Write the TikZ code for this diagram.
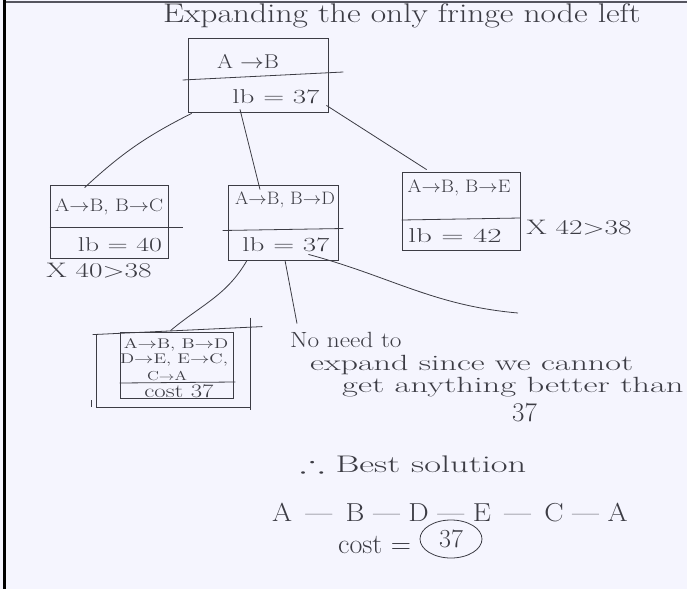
\documentclass[tikz,border=0pt]{standalone}
\usepackage{amssymb}
\usepackage{graphicx}
\usetikzlibrary{calc,shapes.geometric}
\definecolor{paper}{HTML}{F5F5FE}
\definecolor{ink}{HTML}{3C3C44}
\definecolor{frame}{HTML}{55555F}
\newcommand{\mywide}[2]{\scalebox{#1}[1]{#2}}
\tikzset{
  statebox/.style={draw=ink,line width=0.8pt,rectangle,inner sep=0pt},
  divider/.style={draw=ink,line width=0.8pt},
  edge/.style={draw=ink,line width=0.8pt},
  boxtext/.style={text=ink,font=\fontsize{18}{20}\selectfont,inner sep=1pt},
  lbtext/.style={text=ink,font=\fontsize{20}{22}\selectfont,inner sep=1pt},
  smalltext/.style={text=ink,font=\fontsize{14}{15}\selectfont,inner sep=0pt},
  note/.style={text=ink,font=\fontsize{22}{24}\selectfont,inner sep=0pt,anchor=base west},
  title/.style={text=ink,font=\fontsize{27}{30}\selectfont,inner sep=0pt,anchor=base west},
}
\begin{document}
\begin{tikzpicture}[x=1pt,y=-1pt]
\useasboundingbox (0,0) rectangle (687,589);
\fill[paper] (0,0) rectangle (687,589);
\draw[black,line width=3pt] (4,0) -- (4,589);
\draw[frame,line width=1.5pt] (6,2) -- (687,2);

% title
\node[title] (ttl) at (163,22) {\mywide{1.24}{Expanding the only fringe node left}};

% root
\node[statebox,minimum width=140,minimum height=74] (root) at (258,75) {};
\draw[divider] ($(root.west)+(-5,5)$) -- ($(root.east)+(15,-3)$);
\node[boxtext,font=\fontsize{20}{22}\selectfont] (rt) at (248,61) {\mywide{1.15}{A $\to$B}};
\node[lbtext] (rb) at (276,97) {\mywide{1.45}{lb = 37}};

% child 1
\node[statebox,minimum width=118,minimum height=73] (c1) at (109,221.5) {};
\draw[divider] ($(c1.west)+(0,6)$) -- ($(c1.east)+(15,6)$);
\node[boxtext] (c1t) at (109,207) {\mywide{1.17}{A$\to$B, B$\to$C}};
\node[lbtext] (c1b) at (120,245) {\mywide{1.4}{lb = 40}};
\node[boxtext,font=\fontsize{21}{23}\selectfont] (c1x) at (99,271) {\mywide{1.4}{X 40$>$38}};

% child 2
\node[statebox,minimum width=110,minimum height=75] (c2) at (283,222.5) {};
\draw[divider] ($(c2.west)+(-5,8)$) -- ($(c2.east)+(5,6)$);
\node[boxtext] (c2t) at (285,200) {\mywide{1.07}{A$\to$B, B$\to$D}};
\node[lbtext] (c2b) at (286,245) {\mywide{1.45}{lb = 37}};

% child 3
\node[statebox,minimum width=118,minimum height=78] (c3) at (461,211) {};
\draw[divider] ($(c3.west)+(0,9)$) -- ($(c3.east)+(0,7)$);
\node[boxtext] (c3t) at (459,188) {\mywide{1.12}{A$\to$B, B$\to$E}};
\node[lbtext] (c3b) at (455,236) {\mywide{1.55}{lb = 42}};
\node[boxtext,font=\fontsize{21}{23}\selectfont] (c3x) at (579,228) {\mywide{1.4}{X 42$>$38}};

% leaf
\node[statebox,minimum width=113,minimum height=66] (leaf) at (176.5,365) {};
\draw[divider] ($(leaf.west)+(0,18)$) -- ($(leaf.east)+(2,17)$);
\node[smalltext] (l1) at (176,345) {\mywide{1.35}{A$\to$B, B$\to$D}};
\node[smalltext] (l2) at (174,360) {\mywide{1.35}{D$\to$E, E$\to$C,}};
\node[smalltext,font=\fontsize{13}{14}\selectfont] (l3) at (167,375.5) {\mywide{1.3}{C$\to$A}};
\node[smalltext,font=\fontsize{19}{20}\selectfont] (l4) at (179,391) {\mywide{1.3}{cost 37}};
\draw[edge] ($(leaf.north west)+(-27,3)$) -- ($(leaf.north east)+(29,-5)$);
\draw[edge] ($(leaf.north west)+(-23,3)$) -- ($(leaf.south west)+(-23,9)$) -- ($(leaf.south east)+(17,9)$);
\draw[edge] ($(leaf.north east)+(17,-14)$) -- ($(leaf.south east)+(17,12)$);
\draw[edge] ($(leaf.south west)+(-28,2)$) -- ($(leaf.south west)+(-28,9)$);

% connectors
\draw[edge] ($(root.south west)+(4,1)$) to[bend right=8] ($(c1.north west)+(35,3)$);
\draw[edge] ($(root.south)+(-18,-3)$) -- ($(c2.north)+(-23,5)$);
\draw[edge] ($(root.south east)+(-2,-7)$) -- ($(c3.north west)+(25,-2)$);
\draw[edge] ($(c2.south)+(-36,0)$) to[out=240,in=40] ($(leaf.north)+(-6,-1)$);

% note
\node[note] (n1) at (290,347) {\mywide{1.15}{No need to}};
\node[note] (n2) at (310,370) {\mywide{1.55}{expand since we cannot}};
\node[note] (n3) at (342,392) {\mywide{1.57}{get anything better than}};
\node[note,font=\fontsize{27}{29}\selectfont] (n4) at (512,421) {37};
\coordinate (tail) at (518,313);
\draw[edge] ($(c2.south)+(2,0)$) -- ($(n1.north west)+(7,-8)$);
\draw[edge] ($(c2.south east)+(-30,-6)$) to[out=-15,in=175] (tail);

% best solution
\node[note,font=\fontsize{24}{26}\selectfont] (b1) at (300,472) {\mywide{1.52}{$\therefore$ Best solution}};
\node[note,font=\fontsize{26}{28}\selectfont] (b2) at (272,521) {\mywide{1.11}{A \,---\, B --- D --- E \,---\, C --- A}};
\node[note,font=\fontsize{28}{30}\selectfont] (b3) at (338,553) {cost =};
\node[draw=ink,line width=0.8pt,ellipse,minimum width=62,minimum height=38,text=ink,font=\fontsize{26}{28}\selectfont] (circ) at (451,539) {37};
\end{tikzpicture}
\end{document}
